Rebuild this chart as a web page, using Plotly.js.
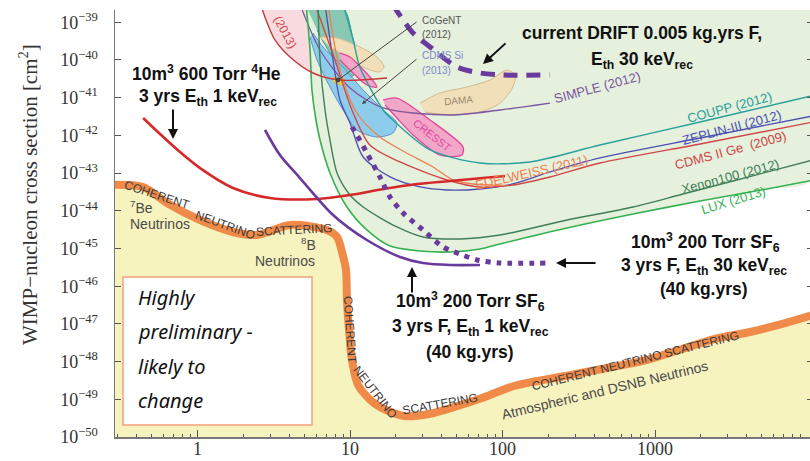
<!DOCTYPE html>
<html><head><meta charset="utf-8">
<script src="https://cdn.plot.ly/plotly-3.0.1.min.js"></script>
<style>html,body{margin:0;padding:0;overflow:hidden;background:#fff}#chart{width:816px;height:461px}</style>
</head><body><div id="chart"></div><script>
// WIMP mass in GeV, spin-independent WIMP-nucleon cross-section in cm^2

// Coherent neutrino scattering floor
const floorMass = [0.28, 0.44, 0.631, 1.04, 1.71, 2.46, 4.04, 7.06, 8.22, 8.86, 9.41, 9.55, 9.85, 10.3, 11.3, 14.6, 22.6, 33.0, 55.9, 73.4, 119, 281, 484, 834, 1437, 2438, 4197, 7227, 10500];
const floorXsec = [4.9e-44, 4.28e-44, 1.61e-44, 5.7e-45, 2.74e-45, 2.28e-45, 4.2e-45, 3.1e-45, 2.02e-45, 8.07e-46, 2.69e-46, 4.3e-47, 6.89e-48, 1.1e-48, 2.39e-49, 7.5e-50, 3.6e-50, 4.07e-50, 7.5e-50, 1.08e-49, 2.25e-49, 4.42e-49, 6.76e-49, 1.04e-48, 2.03e-48, 3.97e-48, 6.1e-48, 1.06e-47, 1.65e-47];

// Experimental limits
const luxMass = [5.15, 5.47, 5.63, 5.98, 6.36, 7.39, 9.55, 12.9, 18.3, 28.8, 45.3, 71.2, 96.3, 265, 718, 1974, 5425, 10500];
const luxXsec = [3e-39, 1.84e-40, 1.6e-41, 2.56e-42, 7.55e-43, 1.01e-43, 1.26e-44, 3.1e-45, 1.16e-45, 8.59e-46, 8.07e-46, 9.7e-46, 1.32e-45, 3.5e-45, 8.22e-45, 1.82e-44, 3.79e-44, 6.3e-44];
const xeMass = [6.17, 6.36, 6.86, 7.39, 8.22, 10.0, 12.2, 20.3, 30.1, 52.6, 96.3, 265, 718, 1527, 3247, 10500];
const xeXsec = [3e-39, 1e-40, 4.72e-42, 7.55e-43, 1.01e-43, 2.62e-44, 1.26e-44, 3.72e-45, 2.02e-45, 1.79e-45, 2.28e-45, 5.7e-45, 1.26e-44, 2.79e-44, 6.17e-44, 2.15e-43];
const cdmsGeMass = [5.89, 7.97, 10.3, 13.5, 21.3, 43.3, 71.2, 117, 205, 436, 1974, 10500];
const cdmsGeXsec = [3e-39, 1e-40, 4.72e-42, 5.56e-43, 1.97e-43, 6.57e-44, 4.28e-44, 4.83e-44, 7.9e-44, 1.85e-43, 5.92e-43, 2.2e-42];
const zepMass = [6.86, 7.74, 8.59, 10.0, 12.2, 18.3, 28.8, 43.3, 71.2, 117, 205, 436, 1974, 10500];
const zepXsec = [3e-39, 1e-40, 8.7e-42, 2.13e-42, 2.67e-43, 7.9e-44, 4.28e-44, 3.56e-44, 3.79e-44, 5.14e-44, 1.07e-43, 2.52e-43, 8.53e-43, 3.2e-42];
const couppMass = [9.0, 10.5, 11.6, 16.5, 19.1, 33.5, 71.2, 151, 436, 1974, 10500];
const couppXsec = [3e-39, 3.4e-40, 6.52e-41, 4.72e-42, 2.56e-42, 4.1e-43, 1.85e-43, 1.97e-43, 5.56e-43, 2.26e-42, 1.1e-41];
const edwMass = [7.17, 8.59, 11.1, 15.7, 22.9, 35.0, 47.3, 64.1, 103.8];
const edwXsec = [3e-39, 5.43e-41, 3.93e-42, 9.08e-43, 3.63e-43, 1.45e-43, 6.57e-44, 5.14e-44, 4.7e-44];
const simpleMass = [4.7, 6.36, 10.0, 16.5, 45.3, 96.3, 205];
const simpleXsec = [3e-39, 1.84e-40, 1.81e-41, 5.33e-42, 3.48e-42, 4.72e-42, 7.2e-42];
const cdmsliteMass = [2.57, 2.9, 3.22, 4.04, 5.72, 8.59, 17.5];
const cdmsliteXsec = [3.2e-39, 8.47e-40, 3.4e-40, 1.2e-40, 4.52e-41, 2.94e-41, 3.33e-41];

// Signal regions
const liteRegionMass = [2.57, 2.9, 3.22, 4.04, 5.72, 5.47, 5.15];
const liteRegionXsec = [3.2e-39, 8.47e-40, 3.4e-40, 1.2e-40, 4.52e-41, 1.84e-40, 3.2e-39];
const tealMass = [5.22, 9.0, 10.5, 11.6, 10.0, 7.39, 6.08];
const tealXsec = [2.4e-39, 2.4e-39, 3.4e-40, 6.52e-41, 3.54e-41, 1.53e-40, 6.25e-40];
const damaAMass = [6.36, 8.22, 11.6, 15.0, 16.7, 15.5, 12.2, 9.55, 7.39];
const damaAXsec = [4.07e-40, 3.84e-40, 2.21e-40, 1.2e-40, 6.52e-41, 4.81e-41, 6.52e-41, 1.2e-40, 2.21e-40];
const damaBMass = [28.8, 38.9, 58.5, 82.8, 107, 121, 117, 96.3, 71.2, 45.3, 31.0];
const damaBXsec = [7.2e-42, 1.33e-41, 1.92e-41, 2.94e-41, 5.43e-41, 4.0e-41, 1.92e-41, 7.2e-42, 4.18e-42, 3.48e-42, 4.18e-42];
const cresstMass = [16.5, 20.3, 33.5, 55.1, 54.2, 38.9, 25.9, 20.3, 17.0];
const cresstXsec = [8.7e-42, 9.8e-42, 2.56e-42, 4.92e-43, 3.02e-43, 3.02e-43, 1.03e-42, 2.9e-42, 6.4e-42];
const cresst2Mass = [8.59, 10.0, 13.5, 15.0, 12.9, 10.0, 8.59];
const cresst2Xsec = [1.53e-40, 1.2e-40, 3.54e-41, 1.92e-41, 2.17e-41, 5.43e-41, 1e-40];
const cdmsSiMass = [5.47, 6.08, 7.39, 9.0, 11.1, 15.0, 19.1, 20.3, 16.5, 12.2, 9.0, 6.65, 5.72];
const cdmsSiXsec = [4.07e-40, 1e-40, 1.92e-41, 4.72e-42, 1.39e-42, 9.08e-43, 1.16e-42, 2.13e-42, 4.72e-42, 1.6e-41, 6.52e-41, 2.21e-40, 5.2e-40];
const cogentMass = [7.62, 9.27, 8.86, 7.74];
const cogentXsec = [3.54e-41, 2.94e-41, 2.17e-41, 2.6e-41];

// Directional detector projections
const heMass = [0.44, 0.568, 0.768, 1.04, 1.71, 2.99, 6.08, 10.0, 16.5, 27.5, 45.3, 103.8];
const heXsec = [2.9e-42, 1.09e-42, 3.63e-43, 1.36e-43, 4.03e-44, 2.19e-44, 2.06e-44, 2.62e-44, 3.79e-44, 5.14e-44, 6.17e-44, 8.4e-44];
const sf1Mass = [2.77, 3.47, 4.7, 7.74, 12.9, 21.3, 30.1, 45.3, 71.2];
const sf1Xsec = [1.39e-42, 3.02e-43, 7.4e-44, 7.74e-45, 1.68e-45, 5.96e-46, 4.12e-46, 3.65e-46, 3.65e-46];
const sf30Mass = [10.3, 11.1, 12.9, 15.7, 18.3, 22.3, 30.1, 40.7, 52.6, 68.1, 96.3, 196];
const sf30Xsec = [1.67e-42, 1.03e-42, 3.41e-43, 7.9e-44, 2.32e-44, 8.75e-45, 3.1e-45, 1.1e-45, 7.14e-46, 4.96e-46, 4.12e-46, 4.12e-46];
const driftMass = [19.1, 25.9, 33.5, 50.3, 71.2, 100.7, 205];
const driftXsec = [2.9e-39, 5.2e-40, 2.21e-40, 6.52e-41, 4.52e-41, 4.0e-41, 4.0e-41];

// Axis ticks
const xTickVals = [1, 10, 100, 1000];
const xTickText = ['1', '10', '100', '1000'];
const xMinorVals = [0.3, 0.4, 0.5, 0.6, 0.7, 0.8, 0.9, 2, 3, 4, 5, 6, 7, 8, 9, 20, 30, 40, 50, 60, 70, 80, 90, 200, 300, 400, 500, 600, 700, 800, 900, 2000, 3000, 4000, 5000, 6000, 7000, 8000, 9000];
const yTickVals = [1e-50, 1e-49, 1e-48, 1e-47, 1e-46, 1e-45, 1e-44, 1e-43, 1e-42, 1e-41, 1e-40, 1e-39];
const yTickText = ['10<sup>−50</sup>', '10<sup>−49</sup>', '10<sup>−48</sup>', '10<sup>−47</sup>', '10<sup>−46</sup>', '10<sup>−45</sup>', '10<sup>−44</sup>', '10<sup>−43</sup>', '10<sup>−42</sup>', '10<sup>−41</sup>', '10<sup>−40</sup>', '10<sup>−39</sup>'];

function line(x, y, color, width, dash) {
  return {type: 'scatter', mode: 'lines', x: x, y: y, hoverinfo: 'skip', showlegend: false,
    line: {color: color, width: width, dash: dash || 'solid', shape: 'spline', smoothing: 0.8}};
}
function region(x, y, fill, edge, w) {
  return {type: 'scatter', mode: 'lines', x: x, y: y, fill: 'toself', fillcolor: fill, hoverinfo: 'skip', showlegend: false,
    line: {color: edge, width: w, shape: 'spline', smoothing: 0.8}};
}

const traces = [
  // area below the neutrino floor
  region(floorMass.concat([floorMass[floorMass.length - 1], floorMass[0]]), floorXsec.concat([1e-52, 1e-52]), '#f7f3bf', 'rgba(0,0,0,0)', 0),
  // excluded parameter space above LUX
  region(luxMass.concat([20000, 5.0]), luxXsec.concat([1e-37, 1e-37]), '#e5f0dd', 'rgba(0,0,0,0)', 0),
  region(liteRegionMass, liteRegionXsec, '#f9dadf', 'rgba(0,0,0,0)', 0),
  region(tealMass, tealXsec, 'rgba(104,188,168,0.75)', '#3b9c94', 1),
  region(damaAMass, damaAXsec, '#f1dfba', '#d6b98c', 1),
  region(damaBMass, damaBXsec, '#f1dfba', '#d6b98c', 1),
  region(cdmsSiMass, cdmsSiXsec, 'rgba(132,200,236,0.9)', '#5b8fd0', 1),
  region(cresstMass, cresstXsec, '#f2a6c8', '#e3489c', 1.3),
  region(cresst2Mass, cresst2Xsec, '#f2a6c8', '#e3489c', 1.3),
  region(cogentMass, cogentXsec, '#f3d13c', '#d9a520', 0.5),
  line(simpleMass, simpleXsec, '#7d56a0', 1.3),
  line(couppMass, couppXsec, '#2b9f9b', 1.4),
  line(zepMass, zepXsec, '#4d4fb0', 1.3),
  line(cdmsGeMass, cdmsGeXsec, '#cf4848', 1.4),
  line(edwMass, edwXsec, '#f08050', 1.3),
  line(xeMass, xeXsec, '#3f7f55', 1.4),
  line(luxMass, luxXsec, '#35b14f', 1.6),
  line(cdmsliteMass, cdmsliteXsec, '#c23a3a', 1.4),
  line(heMass, heXsec, '#d62828', 2.6),
  line(sf1Mass, sf1Xsec, '#6a3a9c', 2.6),
  line(sf30Mass, sf30Xsec, '#6a3a9c', 5, '5px,6px'),
  line(driftMass, driftXsec, '#6a3a9c', 5, '14px,9px'),
  line(floorMass, floorXsec, '#f08a48', 8)
];

// plot-area pixel frame, used for placing text
const L = 115, R = 813, T = 10, B = 437;
function P(px, py) { return {x: (px - L) / (R - L), y: (B - py) / (B - T)}; }
function txt(px, py, text, size, color, angle, family, extra) {
  const p = P(px, py);
  return Object.assign({xref: 'paper', yref: 'paper', x: p.x, y: p.y, text: text, showarrow: false,
    xanchor: 'center', yanchor: 'middle', textangle: angle || 0,
    font: {family: family || 'Liberation Sans, Arial, sans-serif', size: size, color: color}}, extra || {});
}
function arrow(hx, hy, tx, ty, head, color, width, size) {
  const p = P(hx, hy);
  return {xref: 'paper', yref: 'paper', x: p.x, y: p.y, ax: tx - hx, ay: ty - hy, text: '',
    showarrow: true, arrowhead: head, arrowsize: size, arrowwidth: width, arrowcolor: color, standoff: 0, startstandoff: 0};
}
function note(py, text) {
  return txt(136, py, text, 20, '#111', 0, null,
    {xanchor: 'left', font: {family: 'Noto Sans, DejaVu Sans, sans-serif', size: 20, color: '#111', style: 'italic'}});
}
const floorC = '#3a3a3a';
const annotations = [
  txt(28, 195, 'WIMP−nucleon cross section [cm<sup>2</sup>]', 21, '#333', -90, 'Liberation Serif, serif'),
  // projections
  txt(206, 73, '<b>10m<sup>3</sup> 600 Torr <sup>4</sup>He</b>', 17.5, '#111'),
  txt(208, 97, '<b>3 yrs E<sub>th</sub> 1 keV<sub>rec</sub></b>', 17.5, '#111'),
  txt(642, 33, '<b>current DRIFT 0.005 kg.yrs F,</b>', 17.5, '#111'),
  txt(642, 60, '<b>E<sub>th</sub> 30 keV<sub>rec</sub></b>', 17.5, '#111'),
  txt(705, 243, '<b>10m<sup>3</sup> 200 Torr SF<sub>6</sub></b>', 17.5, '#111'),
  txt(704, 266, '<b>3 yrs F, E<sub>th</sub> 30 keV<sub>rec</sub></b>', 17.5, '#111'),
  txt(704, 289, '<b>(40 kg.yrs)</b>', 17.5, '#111'),
  txt(470, 301, '<b>10m<sup>3</sup> 200 Torr SF<sub>6</sub></b>', 17.5, '#111'),
  txt(470, 327, '<b>3 yrs F, E<sub>th</sub> 1 keV<sub>rec</sub></b>', 17.5, '#111'),
  txt(470, 352, '<b>(40 kg.yrs)</b>', 17.5, '#111'),
  arrow(173, 139, 173, 108, 2, '#111', 2, 1),
  arrow(483, 64, 507, 42, 2, '#111', 2, 1),
  arrow(556, 263, 597, 263, 2, '#111', 2, 1),
  arrow(412, 267, 412, 294, 2, '#111', 2, 1),
  // experiment labels
  txt(729, 107, 'COUPP (2012)', 13, '#2b9f9b', -15),
  txt(732, 128, 'ZEPLIN-III (2012)', 13, '#4d4fb0', -15),
  txt(730, 150, 'CDMS II Ge  (2009)', 13, '#cf4848', -15),
  txt(730, 176, 'Xenon100 (2012)', 13, '#3f7f55', -15),
  txt(733, 200, 'LUX (2013)', 13, '#35b14f', -17),
  txt(531, 172, 'EDELWEISS (2011)', 13, '#f08050', -13),
  txt(597, 88, 'SIMPLE (2012)', 13, '#7d56a0', -15),
  txt(458, 100, 'DAMA', 10, '#9a8a70', -5),
  txt(432, 135, 'CRESST', 11, '#e3489c', 38),
  txt(285, 32, '(2013)', 12, '#d04a4a', 62),
  txt(420, 20, 'CoGeNT', 10, '#555', 0, null, {xanchor: 'left'}),
  txt(420, 35, '(2012)', 10, '#555', 0, null, {xanchor: 'left'}),
  txt(420, 55, 'CDMS Si', 10, '#8088d0', 0, null, {xanchor: 'left'}),
  txt(420, 70, '(2013)', 10, '#8088d0', 0, null, {xanchor: 'left'}),
  arrow(338, 80, 418, 21, 6, '#444', 1, 1.2),
  arrow(362, 104, 418, 58, 2, '#444', 1, 0.8),
  // neutrino floor labels
  txt(157, 195, 'COHERENT', 12, floorC, 18),
  txt(225, 225, 'NEUTRINO', 12, floorC, 20),
  txt(294, 230, 'SCATTERING', 12, floorC, -3),
  txt(350, 330, 'COHERENT', 12, floorC, 86),
  txt(375, 392, 'NEUTRINO', 12, floorC, 52),
  txt(440, 404, 'SCATTERING', 12, floorC, -10),
  txt(635, 361, 'COHERENT NEUTRINO SCATTERING', 12, floorC, -14),
  txt(128, 207, '<sup>7</sup>Be', 14, '#4a4a4a', 0, null, {xanchor: 'left'}),
  txt(128, 224, 'Neutrinos', 14, '#4a4a4a', 0, null, {xanchor: 'left'}),
  txt(308, 244, '<sup>8</sup>B', 14, '#4a4a4a'),
  txt(285, 261, 'Neutrinos', 14, '#4a4a4a'),
  txt(605, 390, 'Atmospheric and DSNB Neutrinos', 14, '#4a4a4a', -13.5),
  // caveat box text
  note(297, 'Highly'),
  note(331, 'preliminary -'),
  note(366, 'likely to'),
  note(400, 'change')
];

const b0 = P(123, 425), b1 = P(312, 277);
const layout = {
  width: 816, height: 461,
  margin: {l: L, r: 816 - R, t: T, b: 461 - B},
  paper_bgcolor: '#fff', plot_bgcolor: '#fff',
  showlegend: false,
  xaxis: {type: 'log', range: [-0.541, 4.036], tickmode: 'array', tickvals: xTickVals, ticktext: xTickText,
    ticks: 'inside', ticklen: 7, tickcolor: '#555', showgrid: false, zeroline: false,
    showline: true, linecolor: '#777', linewidth: 1.5, ticklabelstandoff: -5,
    minor: {tickmode: 'array', tickvals: xMinorVals, ticks: 'inside', ticklen: 3, tickcolor: '#555', showgrid: false},
    tickfont: {family: 'Liberation Serif, serif', size: 18, color: '#333'}},
  yaxis: {type: 'log', range: [-50, -38.674], tickmode: 'array', tickvals: yTickVals, ticktext: yTickText,
    ticks: 'inside', ticklen: 6, tickcolor: '#555', showgrid: false, zeroline: false,
    showline: true, linecolor: '#777', linewidth: 1.5, mirror: 'ticks', ticklabelstandoff: 12,
    tickfont: {family: 'Liberation Serif, serif', size: 18, color: '#333'}},
  shapes: [{type: 'rect', xref: 'paper', yref: 'paper', x0: b0.x, y0: b0.y, x1: b1.x, y1: b1.y,
    line: {color: '#f3a17c', width: 1.5}, fillcolor: '#fff', layer: 'above'}],
  annotations: annotations
};

Plotly.newPlot('chart', traces, layout, {displayModeBar: false, staticPlot: true});
</script></body></html>
